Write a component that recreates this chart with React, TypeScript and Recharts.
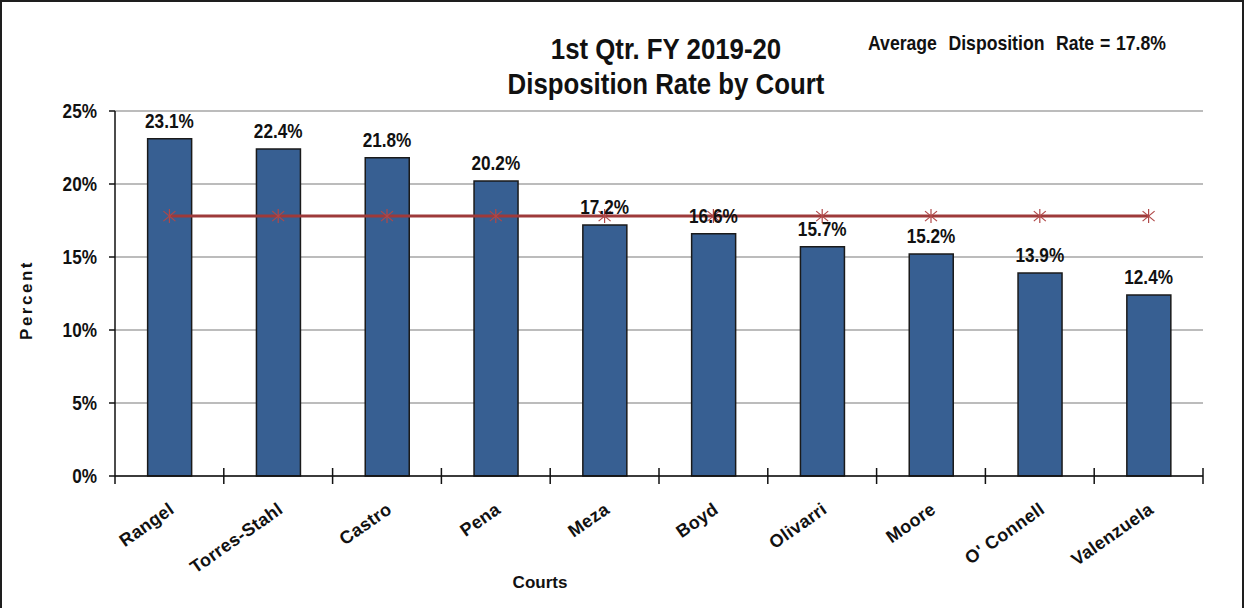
import React from "react";
import {
  ComposedChart,
  Bar,
  Line,
  XAxis,
  YAxis,
  CartesianGrid,
  LabelList,
} from "recharts";

const COURTS = [
  "Rangel",
  "Torres-Stahl",
  "Castro",
  "Pena",
  "Meza",
  "Boyd",
  "Olivarri",
  "Moore",
  "O' Connell",
  "Valenzuela",
];
const RATES = [23.1, 22.4, 21.8, 20.2, 17.2, 16.6, 15.7, 15.2, 13.9, 12.4];
const AVERAGE_RATE = 17.8;
const Y_TICKS = [0, 5, 10, 15, 20, 25];

const data = COURTS.map((court, i) => ({
  court,
  rate: RATES[i],
  avg: AVERAGE_RATE,
}));

const W = 1246;
const H = 608;
const MARGIN = { top: 111, right: 43, bottom: 0, left: 0 };
const Y_AXIS_W = 115;
const X_AXIS_H = 132;
const PLOT_W = W - MARGIN.left - Y_AXIS_W - MARGIN.right;
const BAND = PLOT_W / COURTS.length;

// no Arial Narrow available, so squeeze Liberation Sans horizontally
const SANS = "'Liberation Sans', Arial, sans-serif";
const SQUEEZE = 0.86;

const BAR_FILL = "#375f92";
const LINE_RED = "#9e3a3a";
const MARKER_RED = "#b04848";
const INK = "#111";

// Excel style: ticks sit between categories and cross the axis
const CourtTick = (props: any) => {
  const { x, y, payload, index } = props;
  const left = x - BAND / 2;
  const last = index === COURTS.length - 1;
  return (
    <g>
      <line
        x1={left}
        x2={left}
        y1={index === 0 ? y : y - 8}
        y2={y + 8}
        stroke={INK}
        strokeWidth={1.5}
      />
      {last && (
        <line x1={x + BAND / 2} x2={x + BAND / 2} y1={y - 8} y2={y + 8} stroke={INK} strokeWidth={1.5} />
      )}
      <text
        x={x + 6}
        y={y + 36}
        textAnchor="end"
        transform={`rotate(-35, ${x + 6}, ${y + 36})`}
        fontFamily={SANS}
        fontWeight="bold"
        fontSize={18}
        letterSpacing={0.3}
        fill={INK}
      >
        {payload.value}
      </text>
    </g>
  );
};

const PercentTick = (props: any) => {
  const { x, y, payload } = props;
  return (
    <text
      transform={`translate(${x}, ${y}) scale(${SQUEEZE}, 1)`}
      x={0}
      y={0}
      dy="0.36em"
      textAnchor="end"
      fontFamily={SANS}
      fontWeight="bold"
      fontSize={20}
      fill={INK}
    >
      {`${payload.value}%`}
    </text>
  );
};

const ValueLabel = (props: any) => {
  const vb = props.viewBox || props;
  const cx = vb.x + (vb.width || 0) / 2;
  const top = vb.y - 11;
  return (
    <text
      transform={`translate(${cx}, ${top}) scale(${SQUEEZE}, 1)`}
      x={0}
      y={0}
      textAnchor="middle"
      fontFamily={SANS}
      fontWeight="bold"
      fontSize={20}
      fill={INK}
    >
      {`${props.value}%`}
    </text>
  );
};

const Asterisk = (props: any) => {
  const { cx, cy } = props;
  if (cx == null || cy == null) return null;
  return (
    <g stroke={MARKER_RED} strokeWidth={1.2}>
      <line x1={cx} x2={cx} y1={cy - 7} y2={cy + 7} />
      <line x1={cx - 6} x2={cx + 6} y1={cy - 5} y2={cy + 5} />
      <line x1={cx - 6} x2={cx + 6} y1={cy + 5} y2={cy - 5} />
    </g>
  );
};

export default function App() {
  return (
    <div style={{ position: "absolute", left: 0, top: 0, width: W, height: H, background: "#fff" }}>
      <ComposedChart width={W} height={H} data={data} margin={MARGIN} barCategoryGap="30%">
        <CartesianGrid vertical={false} stroke="#a6a6a6" strokeWidth={1.5} />
        <XAxis
          dataKey="court"
          height={X_AXIS_H}
          interval={0}
          tickLine={false}
          tickSize={0}
          tickMargin={0}
          tick={<CourtTick />}
          axisLine={{ stroke: INK, strokeWidth: 1.5 }}
        />
        <YAxis
          width={Y_AXIS_W}
          domain={[0, 25]}
          ticks={Y_TICKS}
          interval={0}
          tickSize={6}
          tickMargin={12}
          tickLine={{ stroke: INK, strokeWidth: 1.5 }}
          axisLine={{ stroke: INK, strokeWidth: 1.5 }}
          tick={<PercentTick />}
        />
        <YAxis
          yAxisId="frame"
          orientation="right"
          width={0}
          domain={[0, 25]}
          tick={false}
          tickLine={false}
          axisLine={{ stroke: "#a6a6a6", strokeWidth: 1.5 }}
        />
        <Bar dataKey="rate" fill={BAR_FILL} stroke="#1a1a1a" strokeWidth={1.5} isAnimationActive={false} />
        <Line
          dataKey="avg"
          stroke={LINE_RED}
          strokeWidth={3}
          dot={<Asterisk />}
          activeDot={false}
          isAnimationActive={false}
        />
        {/* invisible series that only carries the value labels, so they sit above the average line */}
        <Line dataKey="rate" stroke="none" dot={false} activeDot={false} isAnimationActive={false}>
          <LabelList dataKey="rate" content={<ValueLabel />} />
        </Line>
      </ComposedChart>

      <div
        style={{
          position: "absolute",
          left: 466,
          width: 400,
          top: 31,
          textAlign: "center",
          fontFamily: SANS,
          fontWeight: "bold",
          fontSize: 30,
          lineHeight: "35px",
          color: INK,
          transform: `scaleX(${SQUEEZE})`,
        }}
      >
        <div>1st Qtr. FY 2019-20</div>
        <div>Disposition Rate by Court</div>
      </div>
      <div
        style={{
          position: "absolute",
          left: 868,
          top: 31,
          fontFamily: SANS,
          fontWeight: "bold",
          fontSize: 20.5,
          color: INK,
          whiteSpace: "pre",
          wordSpacing: 1,
          transform: `scaleX(${SQUEEZE})`,
          transformOrigin: "left center",
        }}
      >
        {"Average  Disposition  Rate = 17.8%"}
      </div>
      <div
        style={{
          position: "absolute",
          left: 27,
          top: 300,
          transform: "translate(-50%, -50%) rotate(-90deg)",
          fontFamily: SANS,
          fontWeight: "bold",
          fontSize: 17,
          letterSpacing: 2.5,
          color: INK,
          whiteSpace: "nowrap",
        }}
      >
        Percent
      </div>
      <div
        style={{
          position: "absolute",
          left: 540,
          top: 583,
          transform: "translate(-50%, -50%)",
          fontFamily: SANS,
          fontWeight: "bold",
          fontSize: 17,
          color: INK,
          whiteSpace: "nowrap",
        }}
      >
        Courts
      </div>
      <div
        style={{
          position: "absolute",
          left: 0,
          top: 0,
          width: 1244,
          height: H,
          boxSizing: "border-box",
          borderLeft: "2px solid #1e1e1e",
          borderTop: "2px solid #1e1e1e",
          borderRight: "2px solid #1e1e1e",
          pointerEvents: "none",
        }}
      />
    </div>
  );
}
